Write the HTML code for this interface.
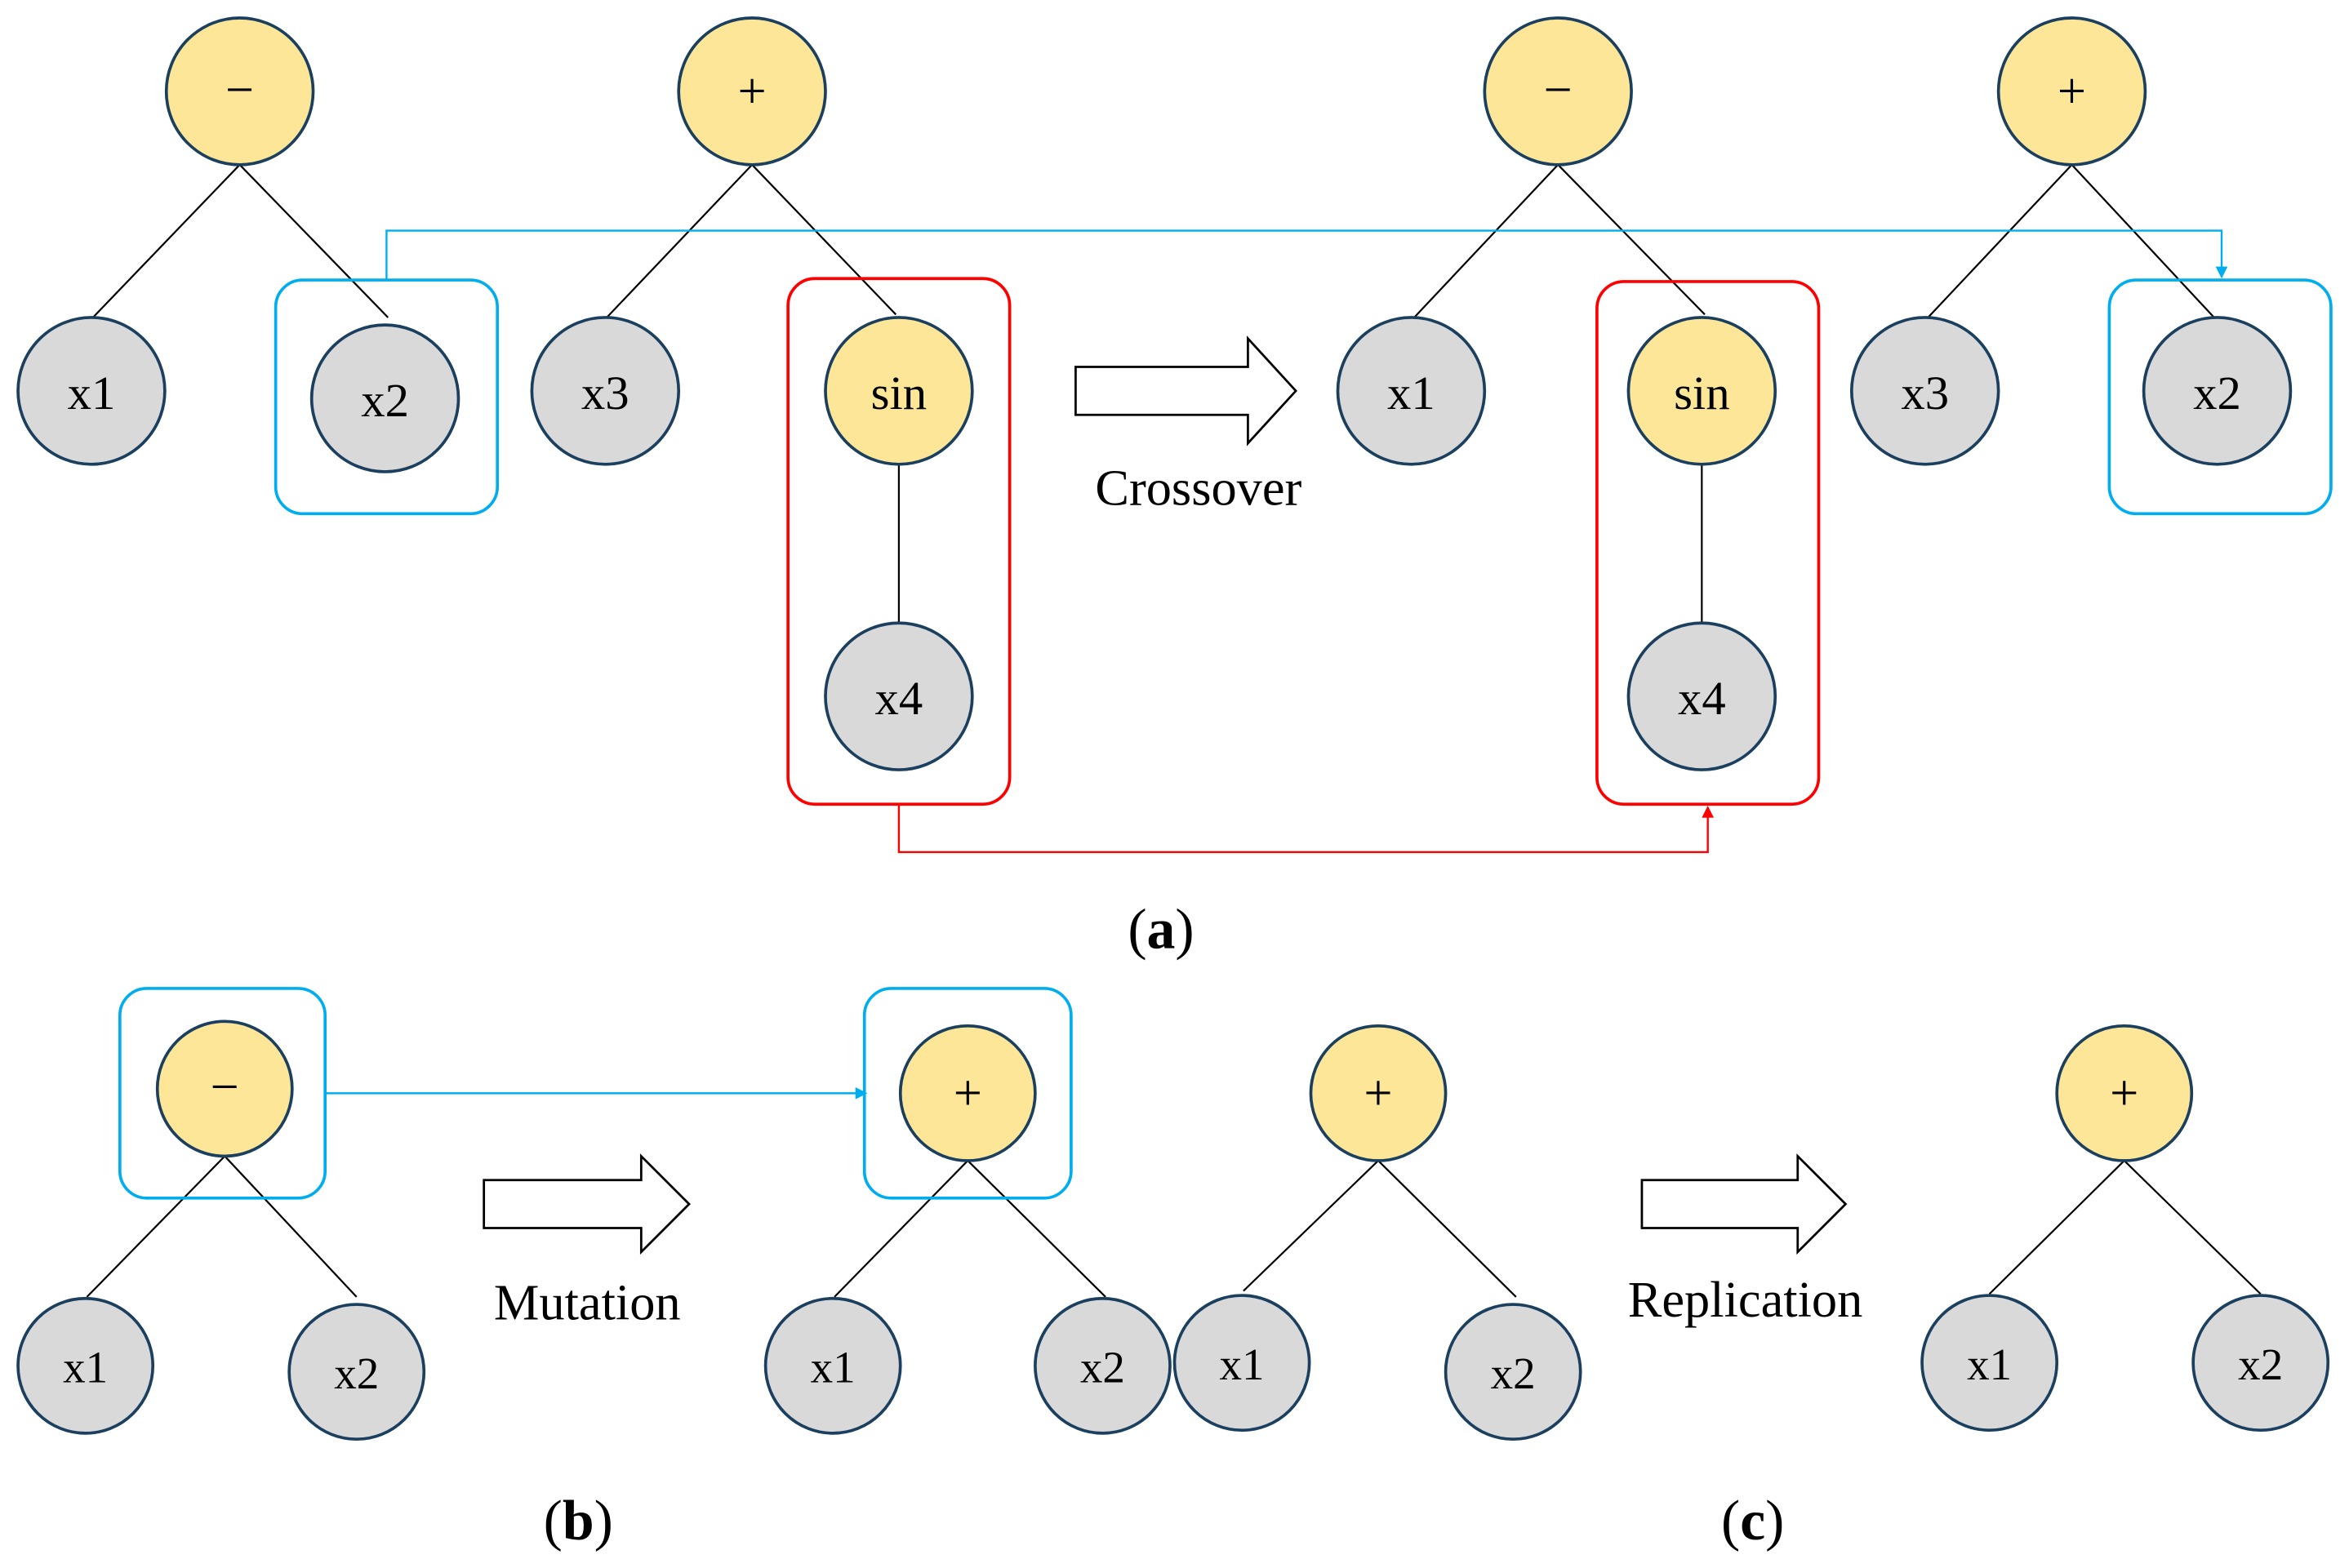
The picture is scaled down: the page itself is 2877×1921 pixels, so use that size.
<!DOCTYPE html>
<html><head><meta charset="utf-8"><style>html,body{margin:0;padding:0;background:#fff}svg{display:block}</style></head><body>
<svg width="2877" height="1921" viewBox="0 0 1568 1047" xmlns="http://www.w3.org/2000/svg" font-family="Liberation Serif, serif">
<defs>
<marker id="ab" markerWidth="8" markerHeight="8" refX="7" refY="4" orient="auto" markerUnits="userSpaceOnUse"><path d="M0,0 L8,4 L0,8 z" fill="#00AEEF"/></marker>
<marker id="ar" markerWidth="8" markerHeight="8" refX="7" refY="4" orient="auto" markerUnits="userSpaceOnUse"><path d="M0,0 L8,4 L0,8 z" fill="#FF0000"/></marker>
</defs>
<g stroke="#000" stroke-width="1.2">
<line x1="160" y1="110" x2="62" y2="212"/><line x1="160" y1="110" x2="259" y2="212"/>
<line x1="502" y1="110" x2="405" y2="212"/><line x1="502" y1="110" x2="598" y2="210"/>
<line x1="600" y1="310" x2="600" y2="416"/>
<line x1="1040" y1="110" x2="944" y2="212"/><line x1="1040" y1="110" x2="1138" y2="210"/>
<line x1="1383" y1="110" x2="1287" y2="212"/><line x1="1383" y1="110" x2="1478" y2="212"/>
<line x1="1136" y1="310" x2="1136" y2="416"/>
<line x1="150" y1="772" x2="58" y2="866"/><line x1="150" y1="772" x2="238" y2="866"/>
<line x1="646" y1="775" x2="557" y2="866"/><line x1="646" y1="775" x2="738" y2="866"/>
<line x1="920" y1="775" x2="830" y2="862"/><line x1="920" y1="775" x2="1012" y2="866"/>
<line x1="1418" y1="775" x2="1328" y2="864"/><line x1="1418" y1="775" x2="1509" y2="864"/>
</g>
<g fill="none" stroke-width="2">
<rect x="184" y="187" width="148" height="156" rx="18" stroke="#00AEEF"/>
<rect x="1408" y="187" width="148" height="156" rx="18" stroke="#00AEEF"/>
<rect x="526" y="186" width="148" height="351" rx="18" stroke="#FF0000"/>
<rect x="1066" y="188" width="148" height="349" rx="18" stroke="#FF0000"/>
<rect x="80" y="660" width="137" height="140" rx="18" stroke="#00AEEF"/>
<rect x="577" y="660" width="138" height="140" rx="18" stroke="#00AEEF"/>
</g>
<polyline points="258,187 258,154 1483,154 1483,185" fill="none" stroke="#00AEEF" stroke-width="1.3" marker-end="url(#ab)"/>
<polyline points="600,537 600,569 1140,569 1140,539" fill="none" stroke="#FF0000" stroke-width="1.3" marker-end="url(#ar)"/>
<line x1="217" y1="730" x2="578" y2="730" stroke="#00AEEF" stroke-width="1.3" marker-end="url(#ab)"/>
<g fill="#fff" stroke="#000" stroke-width="1.5">
<path d="M718,245 H833 V226 L865,261 L833,296 V277 H718 Z"/>
<path d="M323,788 H428 V772 L460,804 L428,836 V820 H323 Z"/>
<path d="M1096,788 H1200 V772 L1232,804 L1200,836 V820 H1096 Z"/>
</g>
<g stroke="#1B3F5E" stroke-width="2">
<g fill="#FEE699">
<circle cx="160" cy="61" r="49"/><circle cx="502" cy="61" r="49"/><circle cx="1040" cy="61" r="49"/><circle cx="1383" cy="61" r="49"/>
<circle cx="600" cy="261" r="49"/><circle cx="1136" cy="261" r="49"/>
<circle cx="150" cy="727" r="45"/><circle cx="646" cy="730" r="45"/><circle cx="920" cy="730" r="45"/><circle cx="1418" cy="730" r="45"/>
</g>
<g fill="#D9D9D9">
<circle cx="61" cy="261" r="49"/><circle cx="257" cy="266" r="49"/><circle cx="404" cy="261" r="49"/><circle cx="600" cy="465" r="49"/>
<circle cx="942" cy="261" r="49"/><circle cx="1136" cy="465" r="49"/><circle cx="1285" cy="261" r="49"/><circle cx="1480" cy="261" r="49"/>
<circle cx="57" cy="912" r="45"/><circle cx="238" cy="916" r="45"/><circle cx="556" cy="912" r="45"/><circle cx="736" cy="912" r="45"/>
<circle cx="829" cy="910" r="45"/><circle cx="1010" cy="916" r="45"/><circle cx="1328" cy="910" r="45"/><circle cx="1509" cy="910" r="45"/>
</g>
</g>
<g font-size="32" text-anchor="middle" fill="#000">
<text x="61" y="273">x1</text><text x="257" y="278">x2</text><text x="404" y="273">x3</text><text x="600" y="273">sin</text><text x="600" y="477">x4</text>
<text x="942" y="273">x1</text><text x="1136" y="273">sin</text><text x="1136" y="477">x4</text><text x="1285" y="273">x3</text><text x="1480" y="273">x2</text>
</g>
<g font-size="30" text-anchor="middle" fill="#000">
<text x="57" y="923">x1</text><text x="238" y="927">x2</text><text x="556" y="923">x1</text><text x="736" y="923">x2</text>
<text x="829" y="921">x1</text><text x="1010" y="927">x2</text><text x="1328" y="921">x1</text><text x="1509" y="921">x2</text>
</g>
<g font-size="34" text-anchor="middle" fill="#000">
<text x="160" y="71">−</text><text x="502" y="72">+</text><text x="1040" y="71">−</text><text x="1383" y="72">+</text>
<text x="150" y="737">−</text><text x="646" y="741">+</text><text x="920" y="741">+</text><text x="1418" y="741">+</text>
</g>
<g font-size="34" text-anchor="middle" fill="#000">
<text x="800" y="337">Crossover</text>
<text x="392" y="881">Mutation</text>
<text x="1165" y="879">Replication</text>
</g>
<g font-size="38" text-anchor="middle" fill="#000">
<text x="775" y="633">(<tspan font-weight="bold">a</tspan>)</text>
<text x="386" y="1028">(<tspan font-weight="bold">b</tspan>)</text>
<text x="1170" y="1028">(<tspan font-weight="bold">c</tspan>)</text>
</g>
</svg>
</body></html>
